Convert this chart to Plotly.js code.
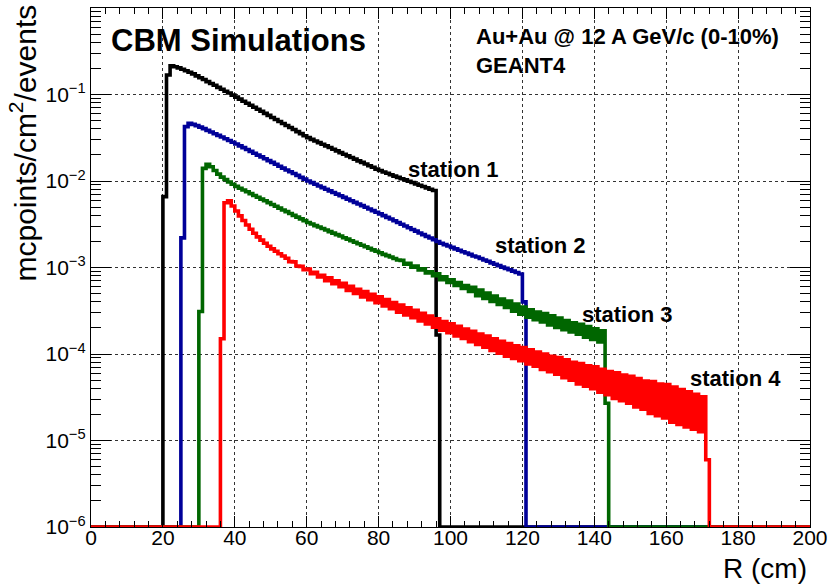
<!DOCTYPE html>
<html>
<head>
<meta charset="utf-8">
<script src="https://cdn.plot.ly/plotly-3.0.1.min.js"></script>
<style>
  html, body { margin: 0; padding: 0; background: #fff; }
  #chart { width: 828px; height: 585px; }
</style>
</head>
<body>
<div id="chart"></div>
<script>
// ---- data: histogram bins of 1 cm, value of bin [R, R+1] ----
const binEdgesRange = [0, 200];
const binWidth = 1;

const station1Start = 20;
const station1Values = [0.0066, 0.168, 0.214, 0.209, 0.203, 0.196, 0.188, 0.181, 0.173, 0.164, 0.156, 0.149, 0.141, 0.134, 0.128, 0.121, 0.115, 0.109, 0.104,
  0.0984, 0.0933, 0.0883, 0.0837, 0.0793, 0.0752, 0.0711, 0.0675, 0.0640, 0.0605, 0.0574, 0.0543, 0.0515, 0.0488, 0.0462, 0.0438, 0.0415, 0.0394, 0.0372, 0.0353, 0.0334, 0.0317,
  0.0303, 0.0290, 0.0278, 0.0266, 0.0255, 0.0244, 0.0233, 0.0223, 0.0213, 0.0204, 0.0195, 0.0187, 0.0179, 0.0171, 0.0164, 0.0157, 0.0150, 0.0144, 0.0137, 0.0132,
  0.0127, 0.0123, 0.0118, 0.0114, 0.0110, 0.0106, 0.0103, 0.00993, 0.00959, 0.00925, 0.00893, 0.00863, 0.00832, 0.00804, 0.00776, 0.000166];

const station2Start = 25;
const station2Values = [0.0022, 0.0425, 0.0465, 0.0452, 0.0437, 0.0420, 0.0403, 0.0385, 0.0369, 0.0352, 0.0337, 0.0322, 0.0308, 0.0294, 0.0281,
  0.0268, 0.0255, 0.0243, 0.0231, 0.0220, 0.0209, 0.0199, 0.0190, 0.0181, 0.0172, 0.0164, 0.0156, 0.0148, 0.0141, 0.0134, 0.0128, 0.0122, 0.0116, 0.0110, 0.0105, 0.0100,
  0.00957, 0.00916, 0.00877, 0.00839, 0.00804, 0.00769, 0.00736, 0.00705, 0.00675, 0.00646, 0.00618, 0.00592, 0.00566, 0.00542, 0.00519, 0.00497, 0.00475, 0.00455, 0.00436, 0.00417,
  0.00398, 0.00380, 0.00363, 0.00347, 0.00331, 0.00316, 0.00302, 0.00288, 0.00275, 0.00263, 0.00251, 0.00240, 0.00229, 0.00219, 0.00209, 0.00200, 0.00191,
  0.00184, 0.00177, 0.00171, 0.00164, 0.00158, 0.00152, 0.00147, 0.00142, 0.00136, 0.00132, 0.00127, 0.00122, 0.00118, 0.00113, 0.00109, 0.00105, 0.00101, 0.000977, 0.000942, 0.000908, 0.000875, 0.000841,
  0.0004];

const station3Start = 30;
const station3Values = [0.00031, 0.0140, 0.0156, 0.0146, 0.0132, 0.0120, 0.0111, 0.0104, 0.00973, 0.00916, 0.00867,
  0.00826, 0.00787, 0.00750, 0.00714, 0.00681, 0.00649, 0.00618, 0.00590, 0.00562, 0.00536, 0.00511, 0.00486, 0.00463, 0.00442, 0.00421, 0.00401, 0.00382, 0.00365, 0.00348, 0.00331,
  0.00318, 0.00305, 0.00294, 0.00282, 0.00271, 0.00260, 0.00250, 0.00240, 0.00231, 0.00221, 0.00213, 0.00204, 0.00196, 0.00188, 0.00181, 0.00174, 0.00167, 0.00160, 0.00154, 0.00148,
  0.00142, 0.00137, 0.00132, 0.00127, 0.00122, 0.00121, 0.00109, 0.00112, 0.00101, 0.00104, 0.000935, 0.000964, 0.000865, 0.000891, 0.000802,
  0.000845, 0.000724, 0.000782, 0.000670, 0.000723, 0.000619, 0.000668, 0.000573, 0.000618, 0.000530,
  0.000592, 0.000473, 0.000547, 0.000438, 0.000506, 0.000405, 0.000468, 0.000374, 0.000433, 0.000346,
  0.000409, 0.000313, 0.000378, 0.000289, 0.000350, 0.000267, 0.000324, 0.000249, 0.000305, 0.000235,
  0.000293, 0.000216, 0.000276, 0.000203, 0.000260, 0.000191, 0.000244, 0.000180, 0.000230, 0.000169,
  0.000221, 0.000156, 0.000208, 0.000147, 0.000196, 0.000138, 0.000185, 0.000027];

const station4Start = 36;
const station4Values = [0.00015, 0.0056, 0.0059, 0.00514, 0.00450, 0.00395, 0.00349, 0.00310, 0.00277, 0.00249, 0.00226, 0.00207, 0.00191, 0.00176,
  0.00164, 0.00154, 0.00144, 0.00136, 0.00128, 0.00117, 0.00116, 0.00104, 0.00103, 0.000940,
  0.000958, 0.000846, 0.000880, 0.000779, 0.000810, 0.000705, 0.000759, 0.000649, 0.000700, 0.000598,
  0.000657, 0.000543, 0.000606, 0.000502, 0.000561, 0.000457, 0.000528, 0.000424, 0.000490, 0.000393,
  0.000459, 0.000359, 0.000426, 0.000333, 0.000394, 0.000305, 0.000369, 0.000282, 0.000342, 0.000262,
  0.000319, 0.000241, 0.000295, 0.000223, 0.000274, 0.000204, 0.000256, 0.000189, 0.000238, 0.000176,
  0.000224, 0.000162, 0.000209, 0.000151, 0.000194, 0.000139, 0.000183, 0.000129, 0.000170, 0.000120,
  0.000161, 0.000110, 0.000150, 0.000102, 0.000140, 0.0000946, 0.000132, 0.0000889, 0.000124, 0.0000834,
  0.000119, 0.0000768, 0.000112, 0.0000722, 0.000105, 0.0000665, 0.0000998, 0.0000625, 0.0000938, 0.0000586,
  0.0000910, 0.0000531, 0.0000855, 0.0000499, 0.0000802, 0.0000452, 0.0000778, 0.0000425, 0.0000731, 0.0000398,
  0.0000710, 0.0000361, 0.0000667, 0.0000339, 0.0000625, 0.0000307, 0.0000607, 0.0000288, 0.0000570, 0.0000270,
  0.0000553, 0.0000245, 0.0000520, 0.0000230, 0.0000488, 0.0000206, 0.0000479, 0.0000194, 0.0000450, 0.0000182,
  0.0000442, 0.0000163, 0.0000415, 0.0000153, 0.0000389, 0.0000143, 0.0000365, 0.0000135, 0.0000343, 0.0000126,
  0.0000321, 0.000006];

const stationNames = ['station 1', 'station 2', 'station 3', 'station 4'];
const stationColors = ['#000000', '#000099', '#006600', '#ff0000'];
const stationStarts = [station1Start, station2Start, station3Start, station4Start];
const stationData = [station1Values, station2Values, station3Values, station4Values];

const yTickVals = [1e-6, 1e-5, 1e-4, 1e-3, 1e-2, 1e-1, 1];
const yTickText = ['10<sup>\u22126</sup>', '10<sup>\u22125</sup>', '10<sup>\u22124</sup>', '10<sup>\u22123</sup>', '10<sup>\u22122</sup>', '10<sup>\u22121</sup>', '1'];
const xTickVals = [0, 20, 40, 60, 80, 100, 120, 140, 160, 180, 200];
const xTickText = ['0', '20', '40', '60', '80', '100', '120', '140', '160', '180', '200'];
const yFloor = 1e-6;

// minor tick positions (axis decoration)
const xMinorStep = 4;
const xMinor = [];
for (let v = binEdgesRange[0]; v <= binEdgesRange[1]; v += xMinorStep) xMinor.push(v);
const yMinor = [];
for (let d = -6; d < 0; d++) for (let k = 2; k <= 9; k++) yMinor.push(k * Math.pow(10, d));

// ---- build histogram step traces (empty bins drawn on the frame floor) ----
function buildTrace(start, values, color, name) {
  const nBins = Math.round((binEdgesRange[1] - binEdgesRange[0]) / binWidth);
  const xs = [], ys = [];
  for (let i = 0; i < nBins; i++) {
    const r = binEdgesRange[0] + i * binWidth;
    const idx = Math.round((r - start) / binWidth);
    const v = (idx >= 0 && idx < values.length) ? values[idx] : 0;
    xs.push(r);
    ys.push(v > 0 ? v : yFloor);
  }
  xs.push(binEdgesRange[1]);
  ys.push(ys[ys.length - 1]);
  return {
    type: 'scatter', mode: 'lines', x: xs, y: ys, name: name,
    line: { color: color, width: 3.6, shape: 'hv', simplify: false },
    hoverinfo: 'x+y+name'
  };
}

const traces = stationData.map((vals, i) => buildTrace(stationStarts[i], vals, stationColors[i], stationNames[i]));

const FONT = 'Liberation Sans, Arial, Helvetica, sans-serif';
const L = 91, R = 18, T = 8, B = 58;
const W = 828, H = 585;
const pw = W - L - R, ph = H - T - B;
function px(xp) { return (xp - L) / pw; }
function py(yp) { return (H - B - yp) / ph; }

const layout = {
  width: W, height: H,
  margin: { l: L, r: R, t: T, b: B, pad: 0 },
  paper_bgcolor: '#ffffff', plot_bgcolor: '#ffffff',
  showlegend: false,
  font: { family: FONT, color: '#000' },
  xaxis: {
    range: binEdgesRange, tickmode: 'array', tickvals: xTickVals, ticktext: xTickText,
    ticks: 'inside', ticklen: 11, tickwidth: 1, tickcolor: '#000',
    showline: true, linecolor: '#000', linewidth: 1.2, mirror: 'ticks',
    showgrid: true, gridcolor: '#333', griddash: 'dot', gridwidth: 1,
    zeroline: false, ticklabelstandoff: -8,
    tickfont: { family: FONT, size: 21, color: '#000' },
    minor: { tickmode: 'array', tickvals: xMinor, ticks: 'inside', ticklen: 6, tickwidth: 1, tickcolor: '#000', showgrid: false }
  },
  yaxis: {
    type: 'log', range: [-6, 0], tickmode: 'array', tickvals: yTickVals, ticktext: yTickText,
    ticks: 'inside', ticklen: 20, tickwidth: 1, tickcolor: '#000',
    showline: true, linecolor: '#000', linewidth: 1.2, mirror: 'ticks',
    showgrid: true, gridcolor: '#333', griddash: 'dot', gridwidth: 1,
    zeroline: false,
    tickfont: { family: FONT, size: 21, color: '#000' },
    minor: { tickmode: 'array', tickvals: yMinor, ticks: 'inside', ticklen: 10, tickwidth: 1, tickcolor: '#000', showgrid: false }
  },
  annotations: [
    { text: 'R (cm)', xref: 'paper', yref: 'paper', x: px(809), y: py(568), xanchor: 'right', yanchor: 'middle', showarrow: false,
      font: { family: FONT, size: 28, color: '#000' } },
    { text: 'mcpoints/cm<sup>2</sup>/events', xref: 'paper', yref: 'paper', x: px(24), y: py(3), xanchor: 'center', yanchor: 'top', textangle: -90, showarrow: false,
      font: { family: FONT, size: 30, color: '#000' } },
    { text: '<b>CBM Simulations</b>', xref: 'paper', yref: 'paper', x: px(109), y: py(40), xanchor: 'left', yanchor: 'middle', showarrow: false,
      font: { family: FONT, size: 31, color: '#000' } },
    { text: '<b>Au+Au @ 12 A GeV/c (0-10%)</b>', xref: 'paper', yref: 'paper', x: px(474), y: py(36), xanchor: 'left', yanchor: 'middle', showarrow: false,
      font: { family: FONT, size: 22, color: '#000' } },
    { text: '<b>GEANT4</b>', xref: 'paper', yref: 'paper', x: px(474), y: py(65), xanchor: 'left', yanchor: 'middle', showarrow: false,
      font: { family: FONT, size: 22, color: '#000' } },
    { text: '<b>station 1</b>', xref: 'paper', yref: 'paper', x: px(452.5), y: py(169), xanchor: 'center', yanchor: 'middle', showarrow: false,
      font: { family: FONT, size: 22, color: '#000' } },
    { text: '<b>station 2</b>', xref: 'paper', yref: 'paper', x: px(540), y: py(245.5), xanchor: 'center', yanchor: 'middle', showarrow: false,
      font: { family: FONT, size: 22, color: '#000' } },
    { text: '<b>station 3</b>', xref: 'paper', yref: 'paper', x: px(627), y: py(314), xanchor: 'center', yanchor: 'middle', showarrow: false,
      font: { family: FONT, size: 22, color: '#000' } },
    { text: '<b>station 4</b>', xref: 'paper', yref: 'paper', x: px(735), y: py(378.5), xanchor: 'center', yanchor: 'middle', showarrow: false,
      font: { family: FONT, size: 22, color: '#000' } }
  ]
};

Plotly.newPlot('chart', traces, layout, { displayModeBar: false, staticPlot: true });
</script>
</body>
</html>
